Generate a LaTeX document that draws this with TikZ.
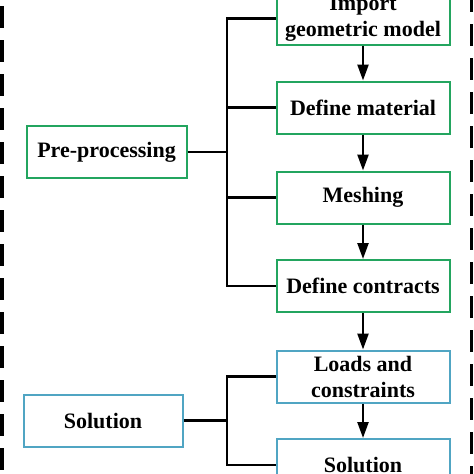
\documentclass[tikz,border=0pt]{standalone}
\usepackage{fontspec}
\setmainfont{Liberation Serif}
\usetikzlibrary{arrows.meta}
\definecolor{boxgreen}{RGB}{35,165,95}
\definecolor{boxblue}{RGB}{80,165,195}
\tikzset{
  stepbox/.style={draw=#1, line width=2pt, minimum width=173pt, minimum height=52pt,
    align=center, inner sep=0pt, font=\bfseries\fontsize{22}{26}\selectfont},
  link/.style={line width=2.4pt},
  flow/.style={line width=2.4pt, -{Triangle[width=11pt,length=16pt]}},
  border/.style={line width=3.5pt, dash pattern=on 22pt off 12pt}
}

\begin{document}
\begin{tikzpicture}[x=1pt,y=-1pt]
	\useasboundingbox (0,0) rectangle (474,474);
	% dashed frame
	\draw[border] (2,-28) -- (2,490);
	\draw[border] (471.5,-10) -- (471.5,490);
	% pre-processing steps
	\node[stepbox=boxgreen] (import) at (363,18.5) {Import\\geometric model};
	\node[stepbox=boxgreen] (material) at (363,107.5) {Define material};
	\node[stepbox=boxgreen] (meshing) at (363,197.5) {Meshing};
	\node[stepbox=boxgreen] (contracts) at (363,286) {Define contracts};
	\node[stepbox=boxgreen, minimum width=160pt] (pre) at (106.5,152) {Pre-processing};
	% solution steps
	\node[stepbox=boxblue] (loads) at (363,376.5) {Loads and\\constraints};
	\node[stepbox=boxblue] (solve) at (363,465) {Solution};
	\node[stepbox=boxblue, minimum width=159pt] (solution) at (103,420.5) {Solution};
	% flow
	\draw[flow] (import) -- (material);
	\draw[flow] (material) -- (meshing);
	\draw[flow] (meshing) -- (contracts);
	\draw[flow] (contracts) -- (loads);
	\draw[flow] (loads) -- (solve);
	% branches
	\coordinate (prebus) at (227,152);
	\draw[link] (pre.east) -- (prebus);
	\draw[link] (prebus) |- (import.west);
	\draw[link] (prebus) |- (material.west);
	\draw[link] (prebus) |- (meshing.west);
	\draw[link] (prebus) |- (contracts.west);
	\coordinate (solbus) at (227,420.5);
	\draw[link] (solution.east) -- (solbus);
	\draw[link] (solbus) |- (loads.west);
	\draw[link] (solbus) |- (solve.west);
\end{tikzpicture}
\end{document}
